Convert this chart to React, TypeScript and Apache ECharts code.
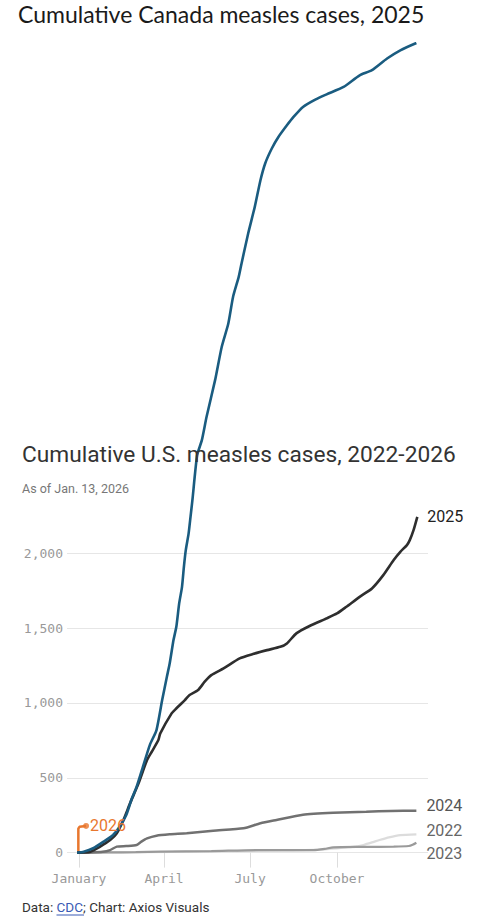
import React, { useEffect, useRef } from "react";
import * as echarts from "echarts";

// x = day of year (0 = Jan 1), y = cumulative cases
const us2022: [number, number][] = [
  [-2, 0], [40, 2], [100, 5], [160, 10], [220, 15], [260, 22], [285, 36], [295, 42],
  [301, 51], [310, 68], [318, 84], [328, 102], [340, 117], [357, 122],
];
const us2023: [number, number][] = [
  [-2, 0], [30, 1], [60, 3], [86, 6], [140, 10], [192, 17], [248, 17], [260, 25],
  [269, 35], [300, 38], [333, 40], [349, 44], [353, 52], [357, 66],
];
const us2024: [number, number][] = [
  [-2, 0], [10, 1], [25, 5], [33, 17], [40, 40], [50, 44], [61, 51], [66, 73],
  [72, 95], [82, 113], [96, 122], [114, 129], [142, 146], [174, 162], [192, 196],
  [209, 218], [237, 253], [269, 266], [304, 273], [330, 278], [357, 280],
];
const us2025: [number, number][] = [
  [-2, 0], [5, 1], [12, 6], [22, 39], [33, 84], [40, 129], [47, 218], [54, 329],
  [63, 463], [72, 619], [77, 674], [84, 752], [86, 797], [98, 930], [102, 957],
  [112, 1019], [117, 1053], [126, 1086], [133, 1142], [140, 1186], [153, 1231],
  [170, 1298], [184, 1327], [199, 1353], [213, 1375], [220, 1398], [230, 1465],
  [244, 1514], [262, 1565], [273, 1598], [283, 1643], [297, 1709], [310, 1765],
  [322, 1854], [333, 1955], [340, 2010], [347, 2055], [350, 2088], [354, 2155],
  [358, 2244],
];
const us2026: [number, number][] = [
  [-0.7, 0], [-0.7, 160], [0.5, 172], [7.5, 178],
];
const canada2025: [number, number][] = [
  [-2, 0], [5, 6], [15, 29], [26, 73], [36, 118], [43, 173], [50, 251], [56, 363],
  [61, 440], [67, 560], [75, 720], [82, 819], [88, 1019], [93, 1175], [96, 1265],
  [100, 1420], [103, 1509], [106, 1665], [109, 1776], [111, 1910], [113, 2021],
  [116, 2133], [118, 2244], [120, 2355], [125, 2655], [130, 2756], [135, 2912],
  [144, 3157], [151, 3379], [158, 3536], [163, 3713], [169, 3847], [172, 3937],
  [179, 4137], [186, 4315], [192, 4493], [197, 4605], [204, 4705], [211, 4782],
  [220, 4860], [227, 4916], [237, 4983], [250, 5032], [262, 5067], [280, 5116],
  [297, 5194], [310, 5228], [326, 5306], [340, 5361], [357, 5410],
];
const monthTicks = [0, 90, 181, 273];
const monthLabels = ["January", "April", "July", "October"];
const yTicks = [0, 500, 1000, 1500, 2000];

const MONO = "'DejaVu Sans Mono', monospace";
const SANS = "Roboto, 'Noto Sans', sans-serif";

// layout: y=0 at 852.6px, 2000 at 553.3px
const ZERO_Y = 852.6;
const PX_PER_CASE = (852.6 - 553.3) / 2000;
const TALL_MAX = 5500;

export default function App() {
  const ref = useRef<HTMLDivElement>(null);
  useEffect(() => {
    document.body.style.margin = "0";
    if (!ref.current) return;
    const chart = echarts.init(ref.current, undefined, { renderer: "svg" });
    const endLabel = (text: string, color: string, dy: number, dist = 10) => ({
      show: true,
      formatter: text,
      color,
      fontFamily: SANS,
      fontSize: 16,
      distance: dist,
      offset: [0, dy],
    });
    const base = {
      type: "line" as const,
      symbol: "none",
      clip: false,
      smooth: 0.2,
      silent: true,
      xAxisIndex: 1,
      yAxisIndex: 1,
    };
    const xRange = { type: "value" as const, min: -12.7, max: 369.3 };
    chart.setOption({
      animation: false,
      backgroundColor: "#ffffff",
      title: [
        {
          text: "Cumulative Canada measles cases, 2025",
          left: 18,
          top: 2,
          padding: 0,
          textStyle: { fontFamily: "Lato, sans-serif", fontSize: 23, fontWeight: "normal", color: "#1a1a1a" },
        },
        {
          text: "Cumulative U.S. measles cases, 2022-2026",
          left: 22,
          top: 443,
          padding: 0,
          textStyle: { fontFamily: SANS, fontSize: 22.7, fontWeight: "normal", color: "#333" },
        },
        {
          text: "As of Jan. 13, 2026",
          left: 22,
          top: 482,
          padding: 0,
          textStyle: { fontFamily: SANS, fontSize: 12.5, fontWeight: "normal", color: "#777" },
        },
      ],
      graphic: [
        {
          type: "text",
          left: 22,
          top: 900,
          style: {
            text: "{a|Data: }{b|CDC}{a|; Chart: Axios Visuals}",
            rich: {
              a: { fontFamily: SANS, fontSize: 13.5, fill: "#333" },
              b: { fontFamily: SANS, fontSize: 13.5, fill: "#3a5bb5" },
            },
          },
        },
        {
          type: "line",
          shape: { x1: 56.5, y1: 915, x2: 84, y2: 915 },
          style: { stroke: "#3a5bb5", lineWidth: 1 },
        },
      ],
      grid: [
        { left: 67, right: 52, top: 553.3, bottom: 918 - ZERO_Y, containLabel: false },
        {
          left: 67,
          right: 52,
          top: ZERO_Y - TALL_MAX * PX_PER_CASE,
          bottom: 918 - ZERO_Y,
          containLabel: false,
        },
      ],
      xAxis: [
        {
          ...xRange,
          gridIndex: 0,
          axisLine: { show: false },
          splitLine: { show: false },
          axisTick: {
            show: true,
            customValues: monthTicks,
            length: 15,
            lineStyle: { color: "#dddddd", width: 1 },
          },
          axisLabel: {
            customValues: monthTicks,
            margin: 19,
            fontFamily: MONO,
            fontSize: 13,
            color: "#999",
            formatter: (v: number) => {
              const i = monthTicks.indexOf(Math.round(v));
              return i >= 0 ? monthLabels[i] : "";
            },
          },
        },
        { ...xRange, gridIndex: 1, show: false },
      ],
      yAxis: [
        {
          type: "value",
          gridIndex: 0,
          min: 0,
          max: 2000,
          interval: 500,
          axisLine: { show: false },
          axisTick: { show: false },
          splitLine: { show: true, lineStyle: { color: "#e6e6e6", width: 1 } },
          axisLabel: {
            margin: 4,
            fontFamily: MONO,
            fontSize: 13,
            color: "#999",
            formatter: (v: number) => (yTicks.includes(v) ? v.toLocaleString("en-US") : ""),
          },
        },
        {
          type: "value",
          gridIndex: 1,
          min: 0,
          max: TALL_MAX,
          show: false,
          splitLine: { show: false },
        },
      ],
      series: [
        {
          ...base,
          name: "2022",
          data: us2022,
          lineStyle: { color: "#dcdcdc", width: 2.2 },
          endLabel: endLabel("2022", "#666", -4),
        },
        {
          ...base,
          name: "2023",
          data: us2023,
          lineStyle: { color: "#9a9a9a", width: 2.2 },
          endLabel: endLabel("2023", "#666", 10.6),
        },
        {
          ...base,
          name: "2024",
          data: us2024,
          lineStyle: { color: "#717171", width: 2.5 },
          endLabel: endLabel("2024", "#555", -5),
        },
        {
          ...base,
          name: "2026",
          smooth: false,
          data: us2026,
          lineStyle: { color: "#e8772e", width: 2.5 },
          endLabel: endLabel("2026", "#e8772e", 0, 4),
        },
        {
          type: "scatter",
          name: "2026 end",
          xAxisIndex: 1,
          yAxisIndex: 1,
          data: [us2026[us2026.length - 1]],
          symbolSize: 6,
          itemStyle: { color: "#e8772e" },
          silent: true,
        },
        {
          ...base,
          name: "2025",
          data: us2025,
          lineStyle: { color: "#2e2e2e", width: 2.6 },
          endLabel: endLabel("2025", "#222", 0),
        },
        {
          ...base,
          name: "Canada 2025",
          data: canada2025,
          lineStyle: { color: "#1a5c80", width: 2.6 },
        },
      ],
    });
    return () => chart.dispose();
  }, []);
  return <div ref={ref} style={{ width: 480, height: 918 }} />;
}
